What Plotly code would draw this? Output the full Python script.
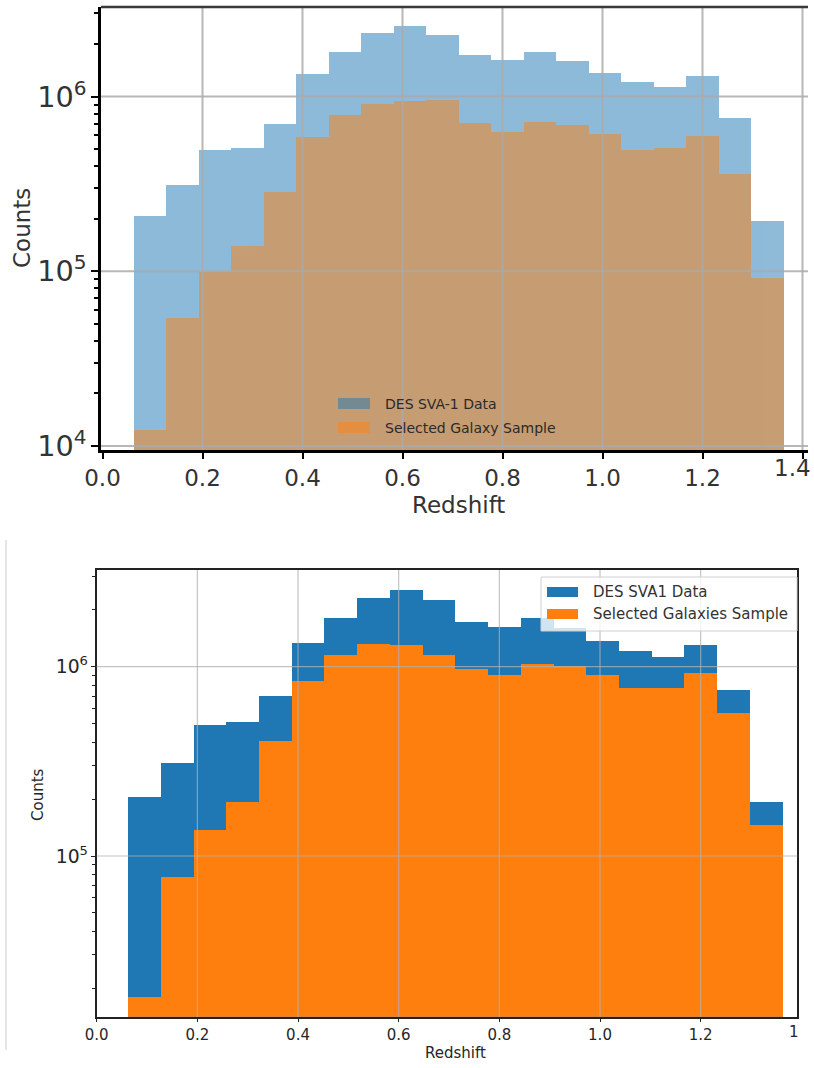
import plotly.graph_objects as go

# Redshift bin edges (20 equal-width bins)
bin_edges = [0.062, 0.127, 0.192, 0.257, 0.322, 0.387, 0.452, 0.517, 0.582, 0.647,
             0.712, 0.777, 0.842, 0.907, 0.972, 1.037, 1.102, 1.167, 1.232, 1.297, 1.362]

# Counts per bin: full DES SVA-1 photometric catalogue
des_sva1_counts = [2.06e5, 3.10e5, 4.95e5, 5.10e5, 7.00e5, 1.34e6, 1.81e6, 2.30e6, 2.53e6, 2.24e6,
                   1.73e6, 1.63e6, 1.81e6, 1.60e6, 1.36e6, 1.21e6, 1.13e6, 1.31e6, 7.50e5, 1.94e5]

# Counts per bin: selected galaxy sample (upper panel)
selected_galaxy_counts = [1.24e4, 5.40e4, 9.85e4, 1.40e5, 2.84e5, 5.90e5, 7.85e5, 9.04e5, 9.45e5, 9.58e5,
                          7.04e5, 6.31e5, 7.13e5, 6.86e5, 6.11e5, 4.95e5, 5.07e5, 5.98e5, 3.61e5, 9.10e4]

# Counts per bin: selected galaxies sample (lower panel)
selected_galaxies_counts = [1.79e4, 7.76e4, 1.37e5, 1.94e5, 4.03e5, 8.36e5, 1.15e6, 1.32e6, 1.31e6, 1.16e6,
                            9.73e5, 9.07e5, 1.03e6, 1.01e6, 9.07e5, 7.71e5, 7.71e5, 9.27e5, 5.69e5, 1.45e5]

x_ticks = [0.0, 0.2, 0.4, 0.6, 0.8, 1.0, 1.2, 1.4]
x_tick_labels = ["0.0", "0.2", "0.4", "0.6", "0.8", "1.0", "1.2", "1.4"]
log_grid = [4, 5, 6]

W, H = 814, 1068
FONT = "DejaVu Sans"
BLUE = "#1f77b4"
ORANGE = "#ff7f0e"

TOP_YRANGE = [3.977, 6.513]
BOT_YRANGE = [4.151, 6.511]

left = bin_edges[:-1]
widths = [b - a for a, b in zip(bin_edges[:-1], bin_edges[1:])]


def px(xp):
    return xp / W


def py(yp):
    return 1 - yp / H


def frac(lv, rng):
    return (lv - rng[0]) / (rng[1] - rng[0])


fig = go.Figure()

# Upper panel: translucent overlaid histograms
fig.add_trace(go.Bar(x=left, y=des_sva1_counts, width=widths, offset=0,
                     marker=dict(color=BLUE, line=dict(width=0)), opacity=0.5,
                     xaxis="x", yaxis="y", showlegend=False))
fig.add_trace(go.Bar(x=left, y=selected_galaxy_counts, width=widths, offset=0,
                     marker=dict(color=ORANGE, line=dict(width=0)), opacity=0.5,
                     xaxis="x", yaxis="y", showlegend=False))

# Lower panel: opaque overlaid histograms
fig.add_trace(go.Bar(x=left, y=des_sva1_counts, width=widths, offset=0,
                     marker=dict(color=BLUE, line=dict(width=0)),
                     xaxis="x2", yaxis="y2", showlegend=False))
fig.add_trace(go.Bar(x=left, y=selected_galaxies_counts, width=widths, offset=0,
                     marker=dict(color=ORANGE, line=dict(width=0)),
                     xaxis="x2", yaxis="y2", showlegend=False))

top_font = dict(family=FONT, size=23, color="#333333")
bot_font = dict(family=FONT, size=15, color="#262626")

fig.update_layout(
    width=W, height=H,
    margin=dict(l=0, r=0, t=0, b=0, autoexpand=False),
    paper_bgcolor="white", plot_bgcolor="white",
    barmode="overlay", bargap=0,
    font=dict(family=FONT),
    xaxis=dict(domain=[px(101), px(808)], anchor="y", range=[-0.003, 1.411], automargin=False,
               tickmode="array", tickvals=x_ticks, ticktext=x_tick_labels,
               showgrid=False, zeroline=False, showline=True, linecolor="black", linewidth=2.5,
               ticks="outside", ticklen=6, tickwidth=2, tickcolor="black", tickfont=top_font),
    yaxis=dict(domain=[py(450), py(7)], anchor="x", type="log", range=TOP_YRANGE,
               automargin=False, dtick=1, exponentformat="power", showgrid=False, zeroline=False,
               showline=True, linecolor="black", linewidth=2.5,
               ticks="outside", ticklen=7, tickwidth=2, tickcolor="black", tickfont=top_font,
               minor=dict(ticks="outside", ticklen=4, tickwidth=1.5, tickcolor="black",
                          showgrid=False)),
    xaxis2=dict(domain=[px(96.7), px(797.3)], anchor="y2", range=[0, 1.392], automargin=False,
                tickmode="array", tickvals=x_ticks[:-1], ticktext=x_tick_labels[:-1],
                showgrid=False, zeroline=False, showline=True, mirror=True,
                linecolor="#222222", linewidth=1.5,
                ticks="outside", ticklen=4, tickwidth=1, tickcolor="#222222", tickfont=bot_font),
    yaxis2=dict(domain=[py(1016.7), py(570)], anchor="x2", type="log", range=BOT_YRANGE,
                automargin=False, dtick=1, exponentformat="power", showgrid=False, zeroline=False,
                showline=True, mirror=True, linecolor="#222222", linewidth=1.5,
                ticks="outside", ticklen=4, tickwidth=1, tickcolor="#222222", tickfont=bot_font,
                minor=dict(ticks="outside", ticklen=2.5, tickwidth=1, tickcolor="#222222",
                           showgrid=False)),
)

shapes = []

# Grid lines drawn over the bars
for xv in x_ticks[1:]:
    shapes.append(dict(type="line", xref="x", yref="y domain", x0=xv, x1=xv, y0=0, y1=1,
                       line=dict(color="rgba(170,170,170,0.85)", width=2), layer="above"))
for lv in log_grid:
    f = frac(lv, TOP_YRANGE)
    shapes.append(dict(type="line", xref="x domain", yref="y domain", x0=0, x1=1, y0=f, y1=f,
                       line=dict(color="rgba(170,170,170,0.85)", width=2), layer="above"))
for xv in x_ticks[1:-1]:
    shapes.append(dict(type="line", xref="x2", yref="y2 domain", x0=xv, x1=xv, y0=0, y1=1,
                       line=dict(color="rgba(176,176,176,0.75)", width=1.2), layer="above"))
for lv in log_grid[1:]:
    f = frac(lv, BOT_YRANGE)
    shapes.append(dict(type="line", xref="x2 domain", yref="y2 domain", x0=0, x1=1, y0=f, y1=f,
                       line=dict(color="rgba(176,176,176,0.75)", width=1.2), layer="above"))

# Upper panel top border
shapes.append(dict(type="line", xref="x domain", yref="y domain", x0=0, x1=1, y0=1, y1=1,
                   line=dict(color="#3a3a3a", width=2.5), layer="above"))

# Upper panel legend (frameless)
shapes.append(dict(type="rect", xref="paper", yref="paper",
                   x0=px(338), x1=px(370), y0=py(409), y1=py(398),
                   fillcolor=BLUE, opacity=0.5, line=dict(width=0), layer="above"))
shapes.append(dict(type="rect", xref="paper", yref="paper",
                   x0=px(338), x1=px(370), y0=py(433), y1=py(422),
                   fillcolor=ORANGE, opacity=0.5, line=dict(width=0), layer="above"))

# Lower panel legend box
shapes.append(dict(type="rect", xref="paper", yref="paper",
                   x0=px(541), x1=px(797), y0=py(631), y1=py(577),
                   fillcolor="rgba(255,255,255,0.8)", line=dict(color="#d0d0d0", width=1),
                   layer="above"))
shapes.append(dict(type="rect", xref="paper", yref="paper",
                   x0=px(547), x1=px(578), y0=py(597), y1=py(587),
                   fillcolor=BLUE, line=dict(width=0), layer="above"))
shapes.append(dict(type="rect", xref="paper", yref="paper",
                   x0=px(547), x1=px(578), y0=py(619), y1=py(609),
                   fillcolor=ORANGE, line=dict(width=0), layer="above"))

# Thin page rule beside the lower panel
shapes.append(dict(type="line", xref="paper", yref="paper", x0=px(6), x1=px(6),
                   y0=py(1050), y1=py(540), line=dict(color="#cccccc", width=1), layer="above"))

fig.update_layout(shapes=shapes)

annotations = [
    # Axis titles, upper panel
    dict(text="Counts", x=px(22), y=py(228), xref="paper", yref="paper", textangle=-90,
         showarrow=False, font=top_font, xanchor="center", yanchor="middle"),
    dict(text="Redshift", x=px(458), y=py(505), xref="paper", yref="paper",
         showarrow=False, font=top_font, xanchor="center", yanchor="middle"),
    # Last upper tick label, kept at the page edge
    dict(text="1.4", x=px(813), y=py(468), xref="paper", yref="paper",
         showarrow=False, font=top_font, xanchor="right", yanchor="middle"),
    # Axis titles, lower panel
    dict(text="Counts", x=px(38), y=py(795), xref="paper", yref="paper", textangle=-90,
         showarrow=False, font=bot_font, xanchor="center", yanchor="middle"),
    dict(text="Redshift", x=px(455), y=py(1053), xref="paper", yref="paper",
         showarrow=False, font=bot_font, xanchor="center", yanchor="middle"),
    dict(text="1", x=px(794), y=py(1032), xref="paper", yref="paper",
         showarrow=False, font=bot_font, xanchor="center", yanchor="middle"),
    # Upper legend labels
    dict(text="DES SVA-1 Data", x=px(383), y=py(403.5), xref="paper", yref="paper",
         showarrow=False, font=dict(family=FONT, size=14, color="#2a2a2a"),
         xanchor="left", yanchor="middle"),
    dict(text="Selected Galaxy Sample", x=px(383), y=py(428), xref="paper", yref="paper",
         showarrow=False, font=dict(family=FONT, size=14, color="#2a2a2a"),
         xanchor="left", yanchor="middle"),
    # Lower legend labels
    dict(text="DES SVA1 Data", x=px(591), y=py(592), xref="paper", yref="paper",
         showarrow=False, font=dict(family=FONT, size=15, color="#333333"),
         xanchor="left", yanchor="middle"),
    dict(text="Selected Galaxies Sample", x=px(591), y=py(614), xref="paper", yref="paper",
         showarrow=False, font=dict(family=FONT, size=15, color="#333333"),
         xanchor="left", yanchor="middle"),
]
fig.update_layout(annotations=annotations)

fig.write_html("out.html")
